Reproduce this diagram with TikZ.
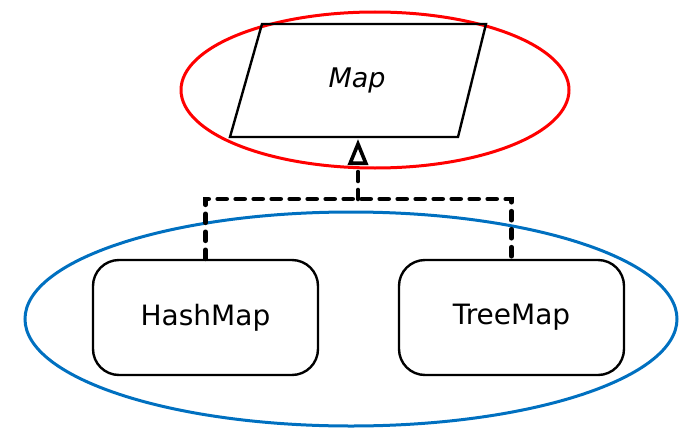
\documentclass[tikz,border=0pt]{standalone}
\usepackage{fontspec}
\setmainfont{DejaVu Sans}
\usetikzlibrary{arrows.meta}

\definecolor{groupblue}{RGB}{0,112,192}

\begin{document}
\begin{tikzpicture}[x=1pt,y=-1pt,
  classbox/.style={draw,line width=2.4pt,rounded corners=26pt,minimum width=225pt,minimum height=115pt,font=\fontsize{28}{34}\selectfont},
  realizes/.style={line width=4.6pt,dash pattern=on 9pt off 9pt,line cap=round}]
\useasboundingbox (0,0) rectangle (679,428);
% groups
\draw[red,line width=3pt] (375,90) ellipse [x radius=194pt, y radius=78pt];
\draw[groupblue,line width=3pt] (351,319) ellipse [x radius=326pt, y radius=107pt];
% interface
\draw[line width=2.4pt] (230,137) -- (262,24) -- (486,24) -- (458,137) -- cycle;
\node[font=\fontsize{27}{32}\selectfont\itshape] (map) at (357,80) {Map};
\coordinate (mapbase) at (358,139);
% classes
\node[classbox] (hashmap) at (205.5,317.5) {HashMap};
\node[classbox] (treemap) at (511.5,317.5) {TreeMap};
\coordinate (fork) at (358,199);
\draw[realizes] (hashmap.north) |- (fork) -| (treemap.north);
\draw[realizes,-{Triangle[open,length=26pt,width=20pt,line width=3.6pt]}] (fork) -- (mapbase);
\end{tikzpicture}
\end{document}
